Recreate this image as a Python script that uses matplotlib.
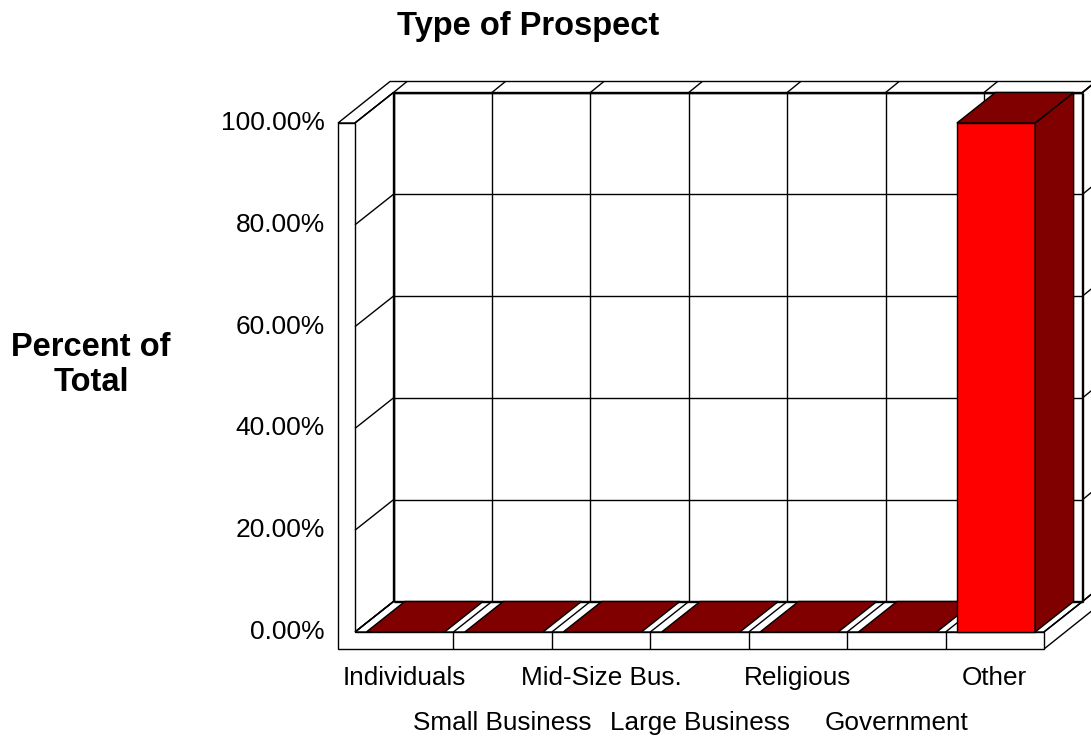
import itertools
import matplotlib.pyplot as plt
from matplotlib.patches import Polygon
from matplotlib.transforms import IdentityTransform, offset_copy

categories = ["Individuals", "Small Business", "Mid-Size Bus.", "Large Business",
              "Religious", "Government", "Other"]
percent = [0, 0, 0, 0, 0, 0, 100]
y_ticks = [0, 20, 40, 60, 80, 100]
y_tick_labels = ["0.00%", "20.00%", "40.00%", "60.00%", "80.00%", "100.00%"]

plt.rcParams['font.family'] = ['Liberation Sans', 'DejaVu Sans']

W, H = 1091, 742
fig = plt.figure(figsize=(W / 100, H / 100), dpi=100)
ax = fig.add_axes([355 / W, 110 / H, 689 / W, 509 / H])
ax.set_xlim(-0.5, len(categories) - 0.5)
ax.set_ylim(0, 100)
ax.axis('off')

DEPTH = (38.5, 30.5)   # full depth of the box, in pixels
WALL = (13.5, 11.0)    # back wall thickness
SLAB = 17              # left wall / floor thickness
DARK = '#800000'
LW = 1.0
order = itertools.count(1)   # painter's order: later = on top

def pt(x, y, d=0.0, w=0.0):
    px, py = ax.transData.transform((x, y))
    return (px + d * DEPTH[0] + w * WALL[0], py + d * DEPTH[1] + w * WALL[1])

def poly(points, fc='white', ec='black', lw=LW):
    ax.add_patch(Polygon(points, closed=True, facecolor=fc, edgecolor=ec, linewidth=lw,
                         transform=IdentityTransform(), clip_on=False, joinstyle='miter',
                         zorder=next(order)))

def line(p, q):
    ax.plot([p[0], q[0]], [p[1], q[1]], color='black', lw=LW, zorder=next(order),
            transform=IdentityTransform(), clip_on=False, solid_capstyle='butt')

x_lo, x_hi = -0.5, len(categories) - 0.5
y_top = y_ticks[-1]
bounds = [x_lo + k for k in range(len(categories) + 1)]

# top of left wall and back wall
a = pt(x_lo, y_top)
a = (a[0] - SLAB, a[1])
poly([a, (a[0] + DEPTH[0] + WALL[0], a[1] + DEPTH[1] + WALL[1]),
      pt(x_hi, y_top, 1, 1), pt(x_hi, y_top, 1), pt(x_lo, y_top, 1), pt(x_lo, y_top)])

# back wall face and its right end
poly([pt(x_lo, 0, 1), pt(x_hi, 0, 1), pt(x_hi, y_top, 1), pt(x_lo, y_top, 1)])
poly([pt(x_hi, 0, 1), pt(x_hi, 0, 1, 1), pt(x_hi, y_top, 1, 1), pt(x_hi, y_top, 1)])

# left wall inner face
poly([pt(x_lo, 0), pt(x_lo, y_top), pt(x_lo, y_top, 1), pt(x_lo, 0, 1)])

# floor top and right side
poly([pt(x_lo, 0), pt(x_hi, 0), pt(x_hi, 0, 1), pt(x_lo, 0, 1)])
fr = pt(x_hi, 0)
poly([fr, pt(x_hi, 0, 1), pt(x_hi, 0, 1, 1),
      (fr[0] + DEPTH[0] + WALL[0], fr[1] - SLAB + DEPTH[1] + WALL[1]), (fr[0], fr[1] - SLAB)])

# front face of left wall and floor
b0, b1 = pt(x_lo, 0), pt(x_lo, y_top)
poly([(b1[0] - SLAB, b1[1]), b1, b0, fr, (fr[0], fr[1] - SLAB), (b0[0] - SLAB, b0[1] - SLAB)])

# gridlines
for v in y_ticks:
    line(pt(x_lo, v, 1), pt(x_hi, v, 1))
    line(pt(x_lo, v), pt(x_lo, v, 1))
    line(pt(x_hi, v, 1), pt(x_hi, v, 1, 1))
for xb in bounds:
    line(pt(xb, 0, 1), pt(xb, y_top, 1))
    line(pt(xb, y_top, 1), pt(xb, y_top, 1, 1))
    line(pt(xb, 0), pt(xb, 0, 1))
for xb in bounds[1:-1]:
    p = pt(xb, 0)
    line(p, (p[0], p[1] - SLAB))

# bars
for i, v in enumerate(percent):
    x0, x1 = i - 0.385, i + 0.41
    if v > 0:
        poly([pt(x0, 0), pt(x1, 0), pt(x1, v), pt(x0, v)], fc='#ff0000')
        poly([pt(x1, 0), pt(x1, 0, 1), pt(x1, v, 1), pt(x1, v)], fc=DARK)
    poly([pt(x0, v), pt(x1, v), pt(x1, v, 1), pt(x0, v, 1)], fc=DARK)

# tick labels
ytrans = offset_copy(ax.transData, fig=fig, x=-30, y=0, units='dots')
for v, lab in zip(y_ticks, y_tick_labels):
    ax.text(x_lo, v, lab, transform=ytrans, ha='right', va='center', fontsize=19)

for i, lab in enumerate(categories):
    dy = -46 if i % 2 == 0 else -91
    xtrans = offset_copy(ax.transData, fig=fig, x=0, y=dy, units='dots')
    ax.text(i, 0, lab, transform=xtrans, ha='center', va='center', fontsize=18.8)

fig.text(528 / W, 1 - 26 / H, "Type of Prospect", ha='center', va='center',
         fontsize=23.5, fontweight='bold')
fig.text(91 / W, 1 - 365 / H, "Percent of\nTotal", ha='center', va='center',
         fontsize=23.5, fontweight='bold', linespacing=1.15)

fig.savefig("out.png", dpi=100)
